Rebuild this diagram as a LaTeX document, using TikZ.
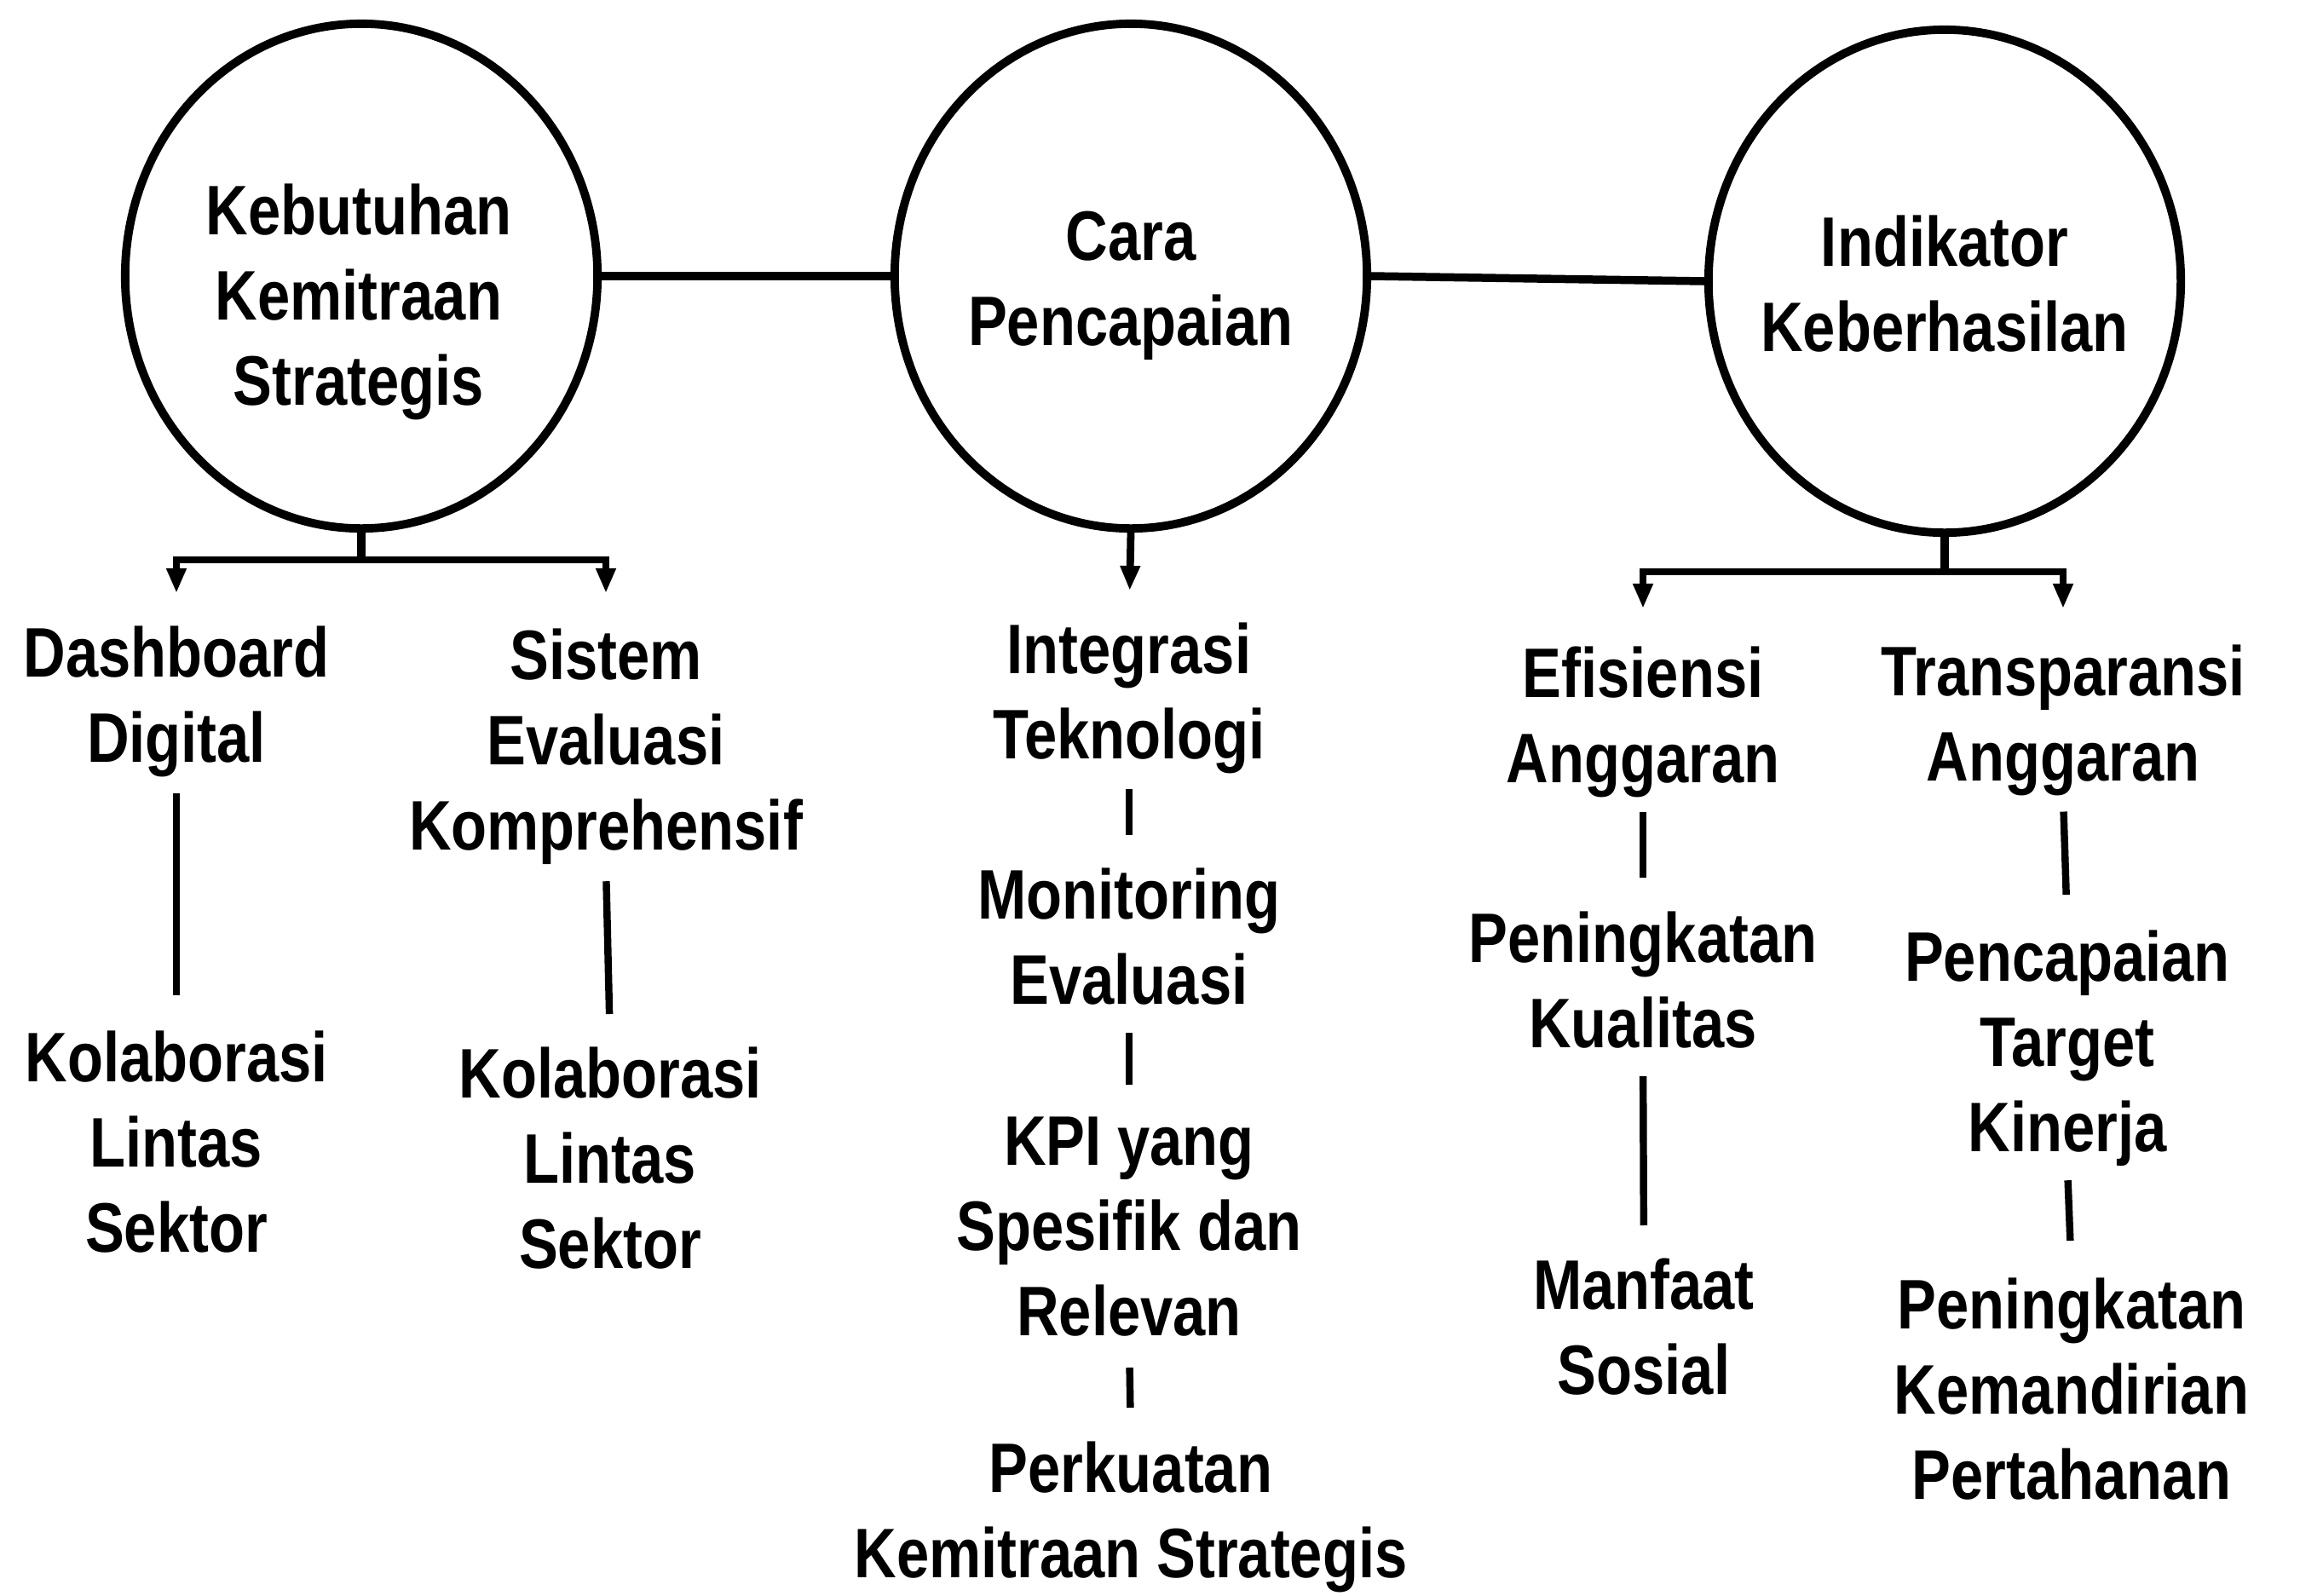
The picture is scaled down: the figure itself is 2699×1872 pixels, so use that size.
\documentclass[tikz,border=0pt]{standalone}
\usepackage{fontspec}
\setmainfont{Liberation Sans}[FakeStretch=0.835]
\usetikzlibrary{shapes.geometric,arrows.meta}
\begin{document}
\begin{tikzpicture}[x=0.01cm,y=-0.01cm,
  bubble/.style={draw, ellipse, line width=2.8pt, inner sep=0pt, minimum width=5.54cm, minimum height=5.92cm},
  lbl/.style={anchor=north, align=center, inner sep=0pt, font=\bfseries\fontsize{23.4}{28.45}\selectfont},
  link/.style={line width=2.7pt},
  vline/.style={line width=2.4pt},
  arr/.style={line width=2.5pt, -{Triangle[width=0.22cm,length=0.29cm]}},
]
\fill[white] (0,0) rectangle (2699,1872);
\useasboundingbox (0,0) rectangle (2699,1872);

% main bubbles
\node[bubble] (c1) at (424,324) {};
\node[bubble] (c2) at (1327,324) {};
\node[bubble, minimum height=5.9cm] (c3) at (2282,330) {};
\node[lbl] (t1) at (421,215) {Kebutuhan\\Kemitraan\\Strategis};
\node[lbl] (t2) at (1327,247) {Cara\\Pencapaian};
\node[lbl] (t3) at (2282,252) {Indikator\\Keberhasilan};

\draw[link] (c1.east) -- (c2.west);
\draw[link] (c2.east) -- (c3.west);

% text items
\node[lbl] (dash) at (207,734) {Dashboard\\Digital};
\node[lbl] (kolA) at (207,1209) {Kolaborasi\\Lintas\\Sektor};
\node[lbl] (sis) at (711,737) {Sistem\\Evaluasi\\Komprehensif};
\node[lbl] (kolB) at (716,1228) {Kolaborasi\\Lintas\\Sektor};
\node[lbl] (integ) at (1325,730) {Integrasi\\Teknologi};
\node[lbl] (mon) at (1325,1018) {Monitoring\\Evaluasi};
\node[lbl] (kpi) at (1325,1310) {KPI yang\\Spesifik dan\\Relevan};
\node[lbl] (perk) at (1327,1691) {Perkuatan\\Kemitraan Strategis};
\node[lbl] (efi) at (1928,758) {Efisiensi\\Anggaran};
\node[lbl] (kual) at (1928,1069) {Peningkatan\\Kualitas};
\node[lbl] (manf) at (1929,1476) {Manfaat\\Sosial};
\node[lbl] (trans) at (2421,756) {Transparansi\\Anggaran};
\node[lbl] (pcp) at (2426,1091) {Pencapaian\\Target\\Kinerja};
\node[lbl] (kem) at (2431,1499) {Peningkatan\\Kemandirian\\Pertahanan};

% branches
\coordinate (j1) at (424,657);
\draw[link] (c1.south) -- (j1);
\draw[arr, shorten >=0.38cm] (j1) -| (dash.north);
\draw[arr, shorten >=0.41cm] (j1) -| (sis.north);

\draw[arr, shorten >=0.37cm] (c2.south) -- (integ.north);

\coordinate (j3) at (2282,671);
\draw[link] (c3.south) -- (j3);
\draw[arr, shorten >=0.44cm] (j3) -| (efi.north);
\draw[arr, shorten >=0.42cm] (j3) -| (trans.north);

% vertical links
\draw[vline, shorten <=0.18cm, shorten >=0.41cm] (dash.south) -- (kolA.north);
\draw[vline, shorten <=0.19cm, shorten >=0.38cm] (sis.south) -- (kolB.north);
\draw[vline, shorten <=0.17cm, shorten >=0.38cm] (integ.south) -- (mon.north);
\draw[vline, shorten <=0.32cm, shorten >=0.37cm] (mon.south) -- (kpi.north);
\draw[vline, shorten <=0.36cm, shorten >=0.39cm] (kpi.south) -- (perk.north);
\draw[vline, shorten <=0.16cm, shorten >=0.39cm] (efi.south) -- (kual.north);
\draw[vline, shorten <=0.32cm, shorten >=0.38cm] (kual.south) -- (manf.north);
\draw[vline, shorten <=0.18cm, shorten >=0.41cm] (trans.south) -- (pcp.north);
\draw[vline, shorten <=0.16cm, shorten >=0.43cm] (pcp.south) -- (kem.north);
\end{tikzpicture}
\end{document}
